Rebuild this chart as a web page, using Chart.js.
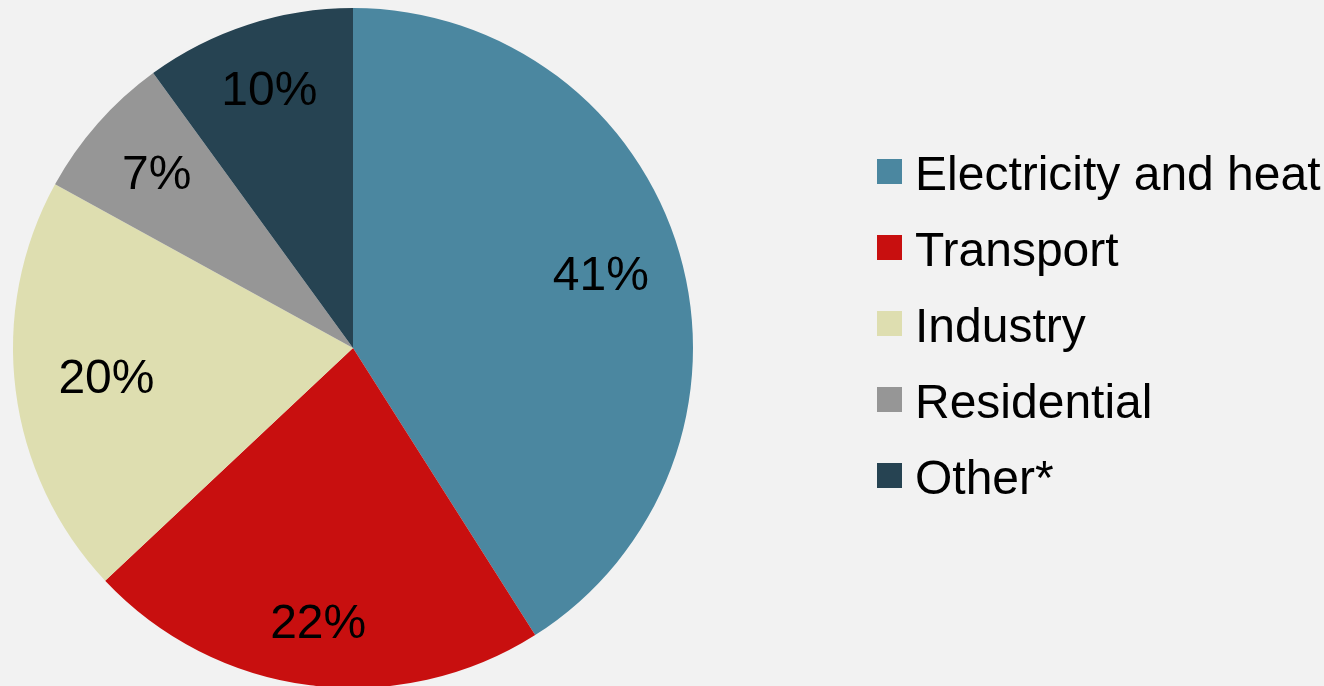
<!DOCTYPE html>
<html lang="en">
<head>
  <meta charset="UTF-8">
  <title>Emissions by sector</title>
  <script src="https://cdn.jsdelivr.net/npm/chart.js"></script>
</head>
<style>
  body { margin: 0; background: #f2f2f2; }
  .wrap { width: 1324px; height: 686px; position: relative; }
</style>
<body>
<div class="wrap">
  <canvas id="pieChart"></canvas>
</div>

<script>
  const sectors = ['Electricity and heat', 'Transport', 'Industry', 'Residential', 'Other*'];
  const shares = [41, 22, 20, 7, 10];
  const colors = ['#4b87a0', '#c80f0f', '#dedeb0', '#969696', '#264352'];

  // how far out each percentage sits, as a fraction of the radius
  const labelRadius = [0.759, 0.817, 0.731, 0.77, 0.796];
  const font = '48px "Liberation Sans", Arial, sans-serif';

  const sliceLabels = {
    id: 'sliceLabels',
    afterDatasetsDraw(chart) {
      const ctx = chart.ctx;
      const meta = chart.getDatasetMeta(0);
      ctx.save();
      ctx.font = font;
      ctx.fillStyle = '#000';
      ctx.textAlign = 'center';
      ctx.textBaseline = 'middle';
      meta.data.forEach((arc, i) => {
        const p = arc.getProps(['x', 'y', 'startAngle', 'endAngle', 'outerRadius'], true);
        const mid = (p.startAngle + p.endAngle) / 2;
        const r = p.outerRadius * labelRadius[i];
        ctx.fillText(shares[i] + '%', p.x + Math.cos(mid) * r, p.y + Math.sin(mid) * r + 1);
      });
      ctx.restore();
    }
  };

  const sideLegend = {
    id: 'sideLegend',
    afterDraw(chart) {
      const ctx = chart.ctx;
      const x = 877, y0 = 171.5, step = 76, box = 25;
      ctx.save();
      ctx.font = font;
      ctx.textBaseline = 'alphabetic';
      chart.data.labels.forEach((label, i) => {
        const cy = y0 + i * step;
        ctx.fillStyle = colors[i];
        ctx.fillRect(x, cy - box / 2, box, box);
        ctx.fillStyle = '#000';
        ctx.fillText(label, x + box + 13, cy + 18);
      });
      ctx.restore();
    }
  };

  new Chart(document.getElementById('pieChart'), {
    type: 'pie',
    data: {
      labels: sectors,
      datasets: [{
        data: shares,
        backgroundColor: colors,
        borderWidth: 0
      }]
    },
    options: {
      responsive: true,
      maintainAspectRatio: false,
      animation: false,
      radius: 340,
      layout: { padding: { top: 10, left: 13, right: 631, bottom: 0 } },
      plugins: {
        legend: { display: false },
        tooltip: { enabled: false }
      }
    },
    plugins: [sliceLabels, sideLegend]
  });
</script>
</body>
</html>
